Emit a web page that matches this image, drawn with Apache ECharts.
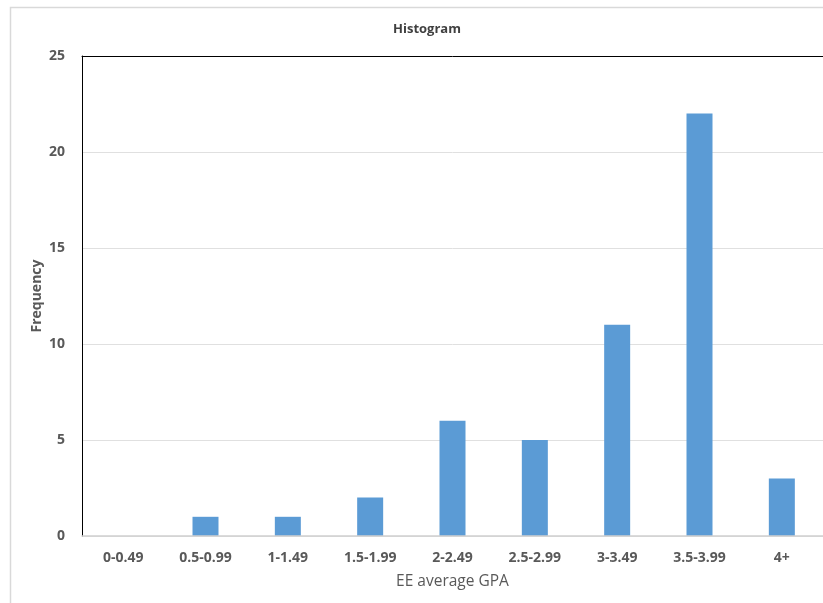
<!DOCTYPE html>
<html>
<head>
<meta charset="utf-8">
<script src="https://cdn.jsdelivr.net/npm/echarts@6/dist/echarts.min.js"></script>
<style>
  html, body { margin: 0; padding: 0; background: #fff; }
  #chart { width: 823px; height: 603px; }
</style>
</head>
<body>
<div id="chart"></div>
<script>
// GPA bins and how many students fall into each
const gpaBins = ['0-0.49', '0.5-0.99', '1-1.49', '1.5-1.99', '2-2.49', '2.5-2.99', '3-3.49', '3.5-3.99', '4+'];
const frequency = [0, 1, 1, 2, 6, 5, 11, 22, 3];
const yTicks = { min: 0, max: 25, step: 5 };
const yAxisTitle = 'Frequency';

const fontFamily = 'Open Sans, sans-serif';

const chart = echarts.init(document.getElementById('chart'), null, { renderer: 'canvas' });
chart.setOption({
  backgroundColor: '#fff',
  animation: false,
  graphic: [{
    type: 'rect',
    shape: { x: 10.5, y: 7.5, width: 900, height: 700 },
    style: { fill: 'none', stroke: '#d9d9d9', lineWidth: 1.5 },
    silent: true, z: -1
  }, {
    // vertical axis title, set a fixed distance left of the plot
    type: 'text',
    x: 37, y: 296,
    rotation: Math.PI / 2,
    style: {
      text: yAxisTitle, fill: '#595959',
      font: 'bold 14px ' + fontFamily,
      align: 'center', verticalAlign: 'middle'
    },
    silent: true
  }],
  title: {
    text: 'Histogram',
    left: 422, top: 18, textAlign: 'center',
    textStyle: { fontSize: 13, fontWeight: 'bold', color: '#404040', fontFamily }
  },
  grid: { left: 82, right: -3, top: 56, bottom: 67 },
  xAxis: [{
    type: 'category',
    data: gpaBins,
    name: 'EE average GPA',
    nameLocation: 'middle',
    nameGap: 38,
    nameTextStyle: { fontSize: 15.5, color: '#595959', fontFamily },
    axisLine: { show: true, lineStyle: { color: '#d0d0d0', width: 1.5 } },
    axisTick: { show: false },
    axisLabel: { fontSize: 14, margin: 15, color: '#595959', fontWeight: 'bold', fontFamily },
    z: 3
  }, {
    // plain frame line along the top of the plot area
    type: 'category',
    data: gpaBins,
    position: 'top',
    axisLine: { show: true, lineStyle: { color: '#000', width: 1 } },
    axisTick: { show: false },
    axisLabel: { show: false }
  }],
  yAxis: {
    type: 'value',
    min: yTicks.min, max: yTicks.max, interval: yTicks.step,
    axisLine: { show: true, lineStyle: { color: '#000', width: 1 } },
    axisTick: { show: false },
    axisLabel: { fontSize: 14, margin: 17, color: '#595959', fontWeight: 'bold', fontFamily },
    splitLine: { show: true, lineStyle: { color: '#e0e0e0', width: 1 } }
  },
  series: [{
    type: 'bar',
    data: frequency,
    barWidth: 26,
    itemStyle: { color: '#5b9bd5' }
  }]
});
</script>
</body>
</html>
